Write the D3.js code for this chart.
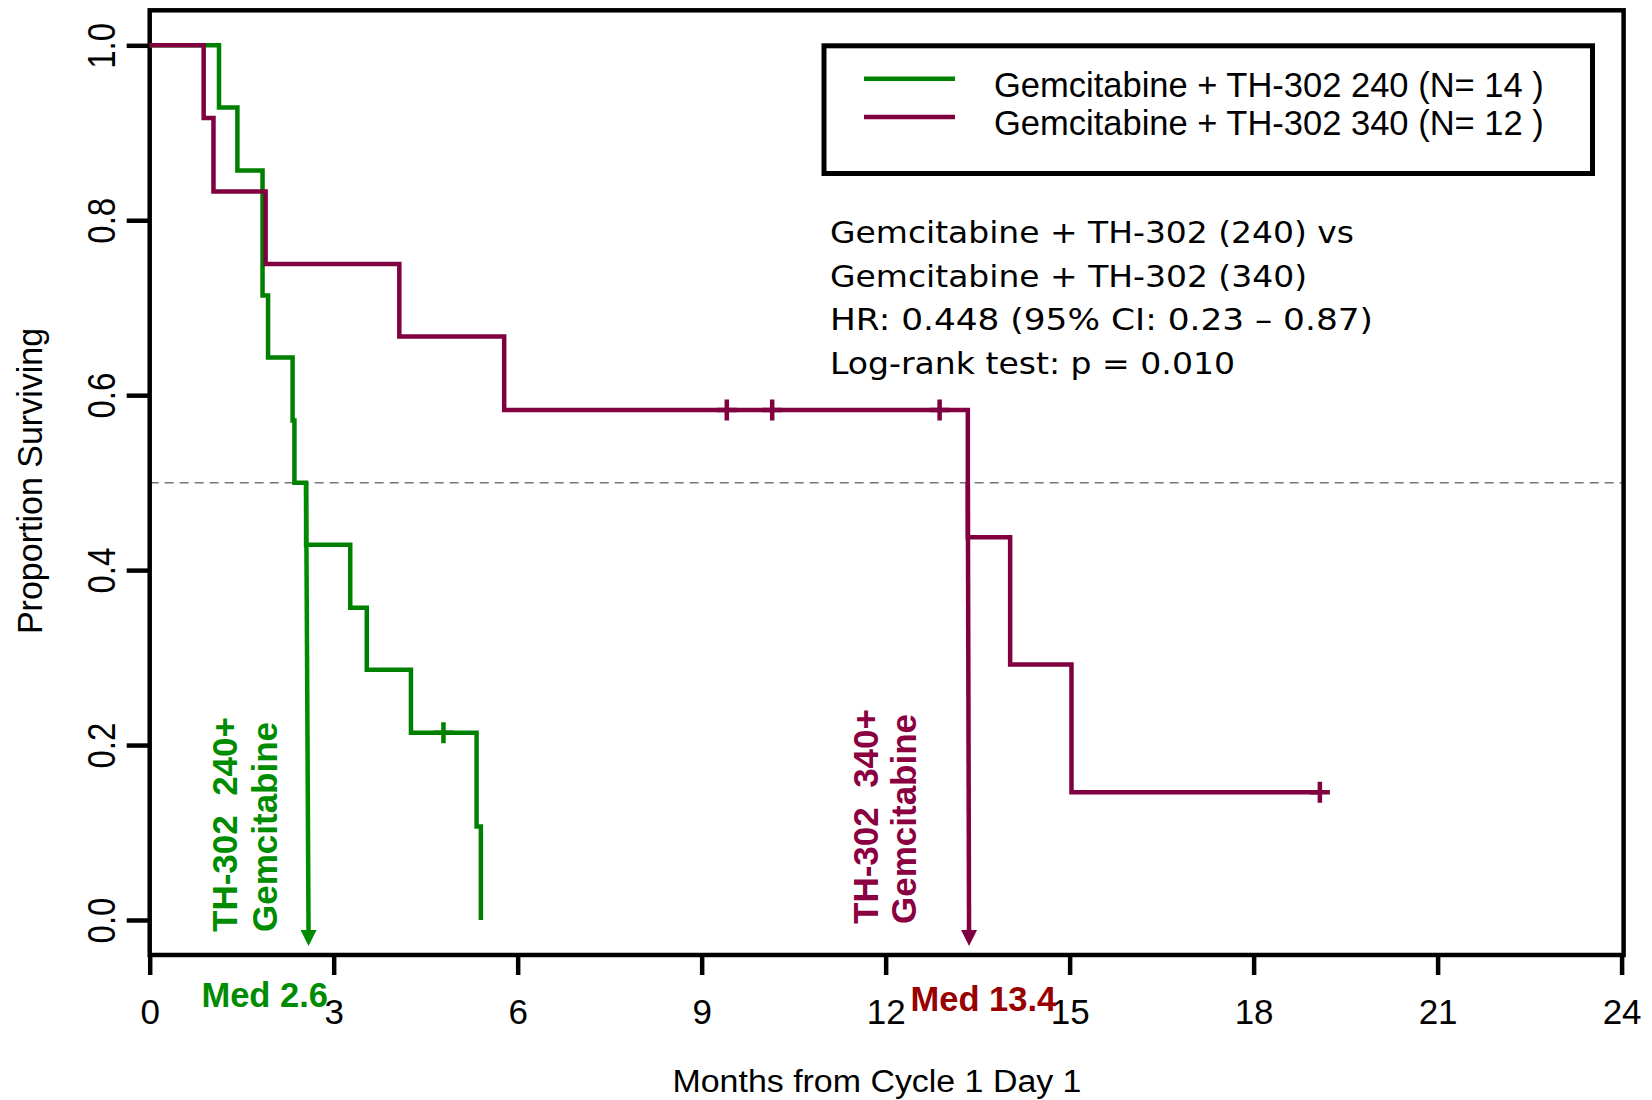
<!DOCTYPE html>
<html><head><meta charset="utf-8">
<script src="https://cdn.jsdelivr.net/npm/d3@7"></script>
<style>
body{margin:0;background:#fff}
svg{display:block}
text{font-family:"Liberation Sans",Arial,sans-serif}
</style>
</head><body>
<svg id="chart" width="1652" height="1100"></svg>
<script>
// ---------------- data ----------------
const xTicks = [0, 3, 6, 9, 12, 15, 18, 21, 24];
const yTicks = [0, 0.2, 0.4, 0.6, 0.8, 1.0];
const yTickLabels = ["0.0", "0.2", "0.4", "0.6", "0.8", "1.0"];
const seriesNames = ["Gemcitabine + TH-302 240 (N= 14 )", "Gemcitabine + TH-302 340 (N= 12 )"];

// Kaplan-Meier steps (months, proportion surviving)
const greenTimes = [0, 1.13, 1.43, 1.84, 1.93, 2.33, 2.36, 2.55, 3.27, 3.54, 4.26, 5.33, 5.40];
const greenSurv  = [1.0, 0.929, 0.857, 0.714, 0.643, 0.571, 0.500, 0.429, 0.357, 0.286, 0.214, 0.107, 0.0];
const greenCensorTimes = [4.79];
const greenCensorSurv  = [0.214];

const purpleTimes = [0, 0.88, 1.04, 1.89, 4.07, 5.78, 13.34, 14.03, 15.03, 19.08];
const purpleSurv  = [1.0, 0.917, 0.833, 0.750, 0.667, 0.583, 0.4375, 0.292, 0.146, 0.146];
const purpleCensorTimes = [9.41, 10.15, 12.88, 19.08];
const purpleCensorSurv  = [0.583, 0.583, 0.583, 0.146];

const medianLevel = 0.5;
const medianLabels = ["Med 2.6", "Med 13.4"];
const medianStartTimes = [2.55, 13.34];
const medianEndTimes = [2.59, 13.36];
const groupLabels = [["TH-302  240+", "Gemcitabine"], ["TH-302  340+", "Gemcitabine"]];
const statsLines = [
  "Gemcitabine + TH-302 (240) vs",
  "Gemcitabine + TH-302 (340)",
  "HR: 0.448 (95% CI: 0.23 \u2013 0.87)",
  "Log-rank test: p = 0.010"
];
const xTitle = "Months from Cycle 1 Day 1";
const yTitle = "Proportion Surviving";

// ---------------- layout / style ----------------
const GREEN = "#008000", GREEN_TXT = "#008c00";
const PURPLE = "#800040", PURPLE_TXT = "#8a0040", RED_TXT = "#990000";
const colors = [GREEN, PURPLE];

const svg = d3.select("#chart");
const x = d3.scaleLinear().domain([0, 24]).range([149.7, 1621.6]);
const y = d3.scaleLinear().domain([0, 1]).range([920, 45.3]);
const frameTop = y(1.04), frameBottom = y(-0.04);
const frameLeft = x(0), frameRight = x(24) + 2;

// dashed 0.5 reference line
svg.append("line")
  .attr("x1", frameLeft).attr("x2", frameRight)
  .attr("y1", y(medianLevel)).attr("y2", y(medianLevel))
  .attr("stroke", "#777").attr("stroke-width", 1.5).attr("stroke-dasharray", "9,6");

// frame
svg.append("rect")
  .attr("x", frameLeft).attr("y", frameTop)
  .attr("width", frameRight - frameLeft).attr("height", frameBottom - frameTop)
  .attr("fill", "none").attr("stroke", "#000").attr("stroke-width", 4.5);

// x axis
const gx = svg.append("g")
  .attr("transform", `translate(0,${frameBottom})`)
  .call(d3.axisBottom(x).tickValues(xTicks).tickSize(20).tickFormat(d3.format("d")));
gx.select(".domain").remove();
gx.attr("font-family", "Liberation Sans, Arial, sans-serif").attr("font-size", 35);
gx.selectAll(".tick line").attr("stroke", "#000").attr("stroke-width", 4.5);
gx.selectAll(".tick text").attr("y", 1024.5 - frameBottom).attr("dy", 0)
  .attr("fill", "#000").attr("font-size", 35);

// y axis
const gy = svg.append("g")
  .attr("transform", `translate(${frameLeft},0)`)
  .call(d3.axisLeft(y).tickValues(yTicks).tickSize(23).tickFormat((d, i) => yTickLabels[i]));
gy.select(".domain").remove();
gy.attr("font-family", "Liberation Sans, Arial, sans-serif").attr("font-size", 33);
gy.selectAll(".tick line").attr("stroke", "#000").attr("stroke-width", 4.5);
gy.selectAll(".tick text")
  .attr("x", 0).attr("dy", 0).attr("text-anchor", "middle").attr("fill", "#000")
  .attr("font-size", 33)
  .attr("transform", `translate(${115 - frameLeft},0) scale(1.15,1) rotate(-90)`);

// axis titles
svg.append("text").text(xTitle)
  .attr("x", 877).attr("y", 1092).attr("text-anchor", "middle")
  .attr("font-size", 31).attr("textLength", 409).attr("lengthAdjust", "spacingAndGlyphs")
  .attr("fill", "#000");
svg.append("text").text(yTitle)
  .attr("transform", "translate(42,481) scale(1.05,1) rotate(-90)")
  .attr("text-anchor", "middle").attr("font-size", 34).attr("fill", "#000");

// KM curves
const kmLine = d3.line().x(d => x(d.t)).y(d => y(d.s)).curve(d3.curveStepAfter);
const greenData = greenTimes.map((t, i) => ({t, s: greenSurv[i]}));
const purpleData = purpleTimes.map((t, i) => ({t, s: purpleSurv[i]}));

function drawArrow(i, col) {
  const x1 = x(medianStartTimes[i]), y1 = y(medianLevel);
  const x2 = x(medianEndTimes[i]), tipY = y(0) + 26;
  svg.append("line").attr("x1", x1).attr("y1", y1).attr("x2", x2).attr("y2", tipY - 12)
    .attr("stroke", col).attr("stroke-width", 4.5);
  svg.append("path")
    .attr("d", `M${x2 - 8},${tipY - 16} L${x2 + 8},${tipY - 16} L${x2},${tipY} Z`)
    .attr("fill", col);
}

svg.append("path").datum(greenData).attr("d", kmLine)
  .attr("fill", "none").attr("stroke", GREEN).attr("stroke-width", 4.5);
drawArrow(0, GREEN_TXT);
svg.append("path").datum(purpleData).attr("d", kmLine)
  .attr("fill", "none").attr("stroke", PURPLE).attr("stroke-width", 4.5);
drawArrow(1, PURPLE);

function censor(times, surv, col) {
  svg.append("g").selectAll("path").data(times).join("path")
    .attr("d", (t, i) => {
      const cx = x(t), cy = y(surv[i]);
      return `M${cx - 10},${cy} H${cx + 10} M${cx},${cy - 10.5} V${cy + 10.5}`;
    })
    .attr("stroke", col).attr("stroke-width", 4.5).attr("fill", "none");
}
censor(greenCensorTimes, greenCensorSurv, GREEN);
censor(purpleCensorTimes, purpleCensorSurv, PURPLE);

// rotated group labels next to median arrows
const groupLabelPos = [{xs: [236.5, 276.5], yb: 932, col: GREEN_TXT}, {xs: [877.5, 915.5], yb: 924, col: PURPLE_TXT}];
groupLabels.forEach((lines, g) => {
  lines.forEach((s, j) => {
    svg.append("text").text(s)
      .attr("transform", `translate(${groupLabelPos[g].xs[j]},${groupLabelPos[g].yb}) rotate(-90)`)
      .attr("font-size", 35).attr("font-weight", "bold").attr("fill", groupLabelPos[g].col)
      .style("white-space", "pre");
  });
});

// median labels
const medLabelPos = [{cx: 264.7, by: 1006.7, col: GREEN_TXT}, {cx: 983.4, by: 1011, col: RED_TXT}];
medianLabels.forEach((s, i) => {
  svg.append("text").text(s)
    .attr("x", medLabelPos[i].cx).attr("y", medLabelPos[i].by).attr("text-anchor", "middle")
    .attr("font-size", 34.5).attr("font-weight", "bold").attr("fill", medLabelPos[i].col);
});

// legend
svg.append("rect").attr("x", 824).attr("y", 45.8).attr("width", 768.5).attr("height", 127.7)
  .attr("fill", "none").attr("stroke", "#000").attr("stroke-width", 5);
const legY = [78.7, 117];
seriesNames.forEach((s, i) => {
  svg.append("line").attr("x1", 864).attr("x2", 955).attr("y1", legY[i]).attr("y2", legY[i])
    .attr("stroke", colors[i]).attr("stroke-width", 4.5);
  svg.append("text").text(s).attr("x", 994).attr("y", legY[i] + 18)
    .attr("font-size", 34.5).attr("fill", "#000").style("white-space", "pre");
});

// statistics text
const statsY = [243.3, 286.7, 330, 374];
const statsW = [524, 477, 543, 405];
statsLines.forEach((s, i) => {
  svg.append("text").text(s).attr("x", 830).attr("y", statsY[i])
    .attr("font-family", "DejaVu Sans, sans-serif").style("font-family", "'DejaVu Sans', sans-serif")
    .attr("font-size", 29.5).attr("fill", "#000")
    .attr("textLength", statsW[i]).attr("lengthAdjust", "spacingAndGlyphs");
});
</script>
</body></html>
